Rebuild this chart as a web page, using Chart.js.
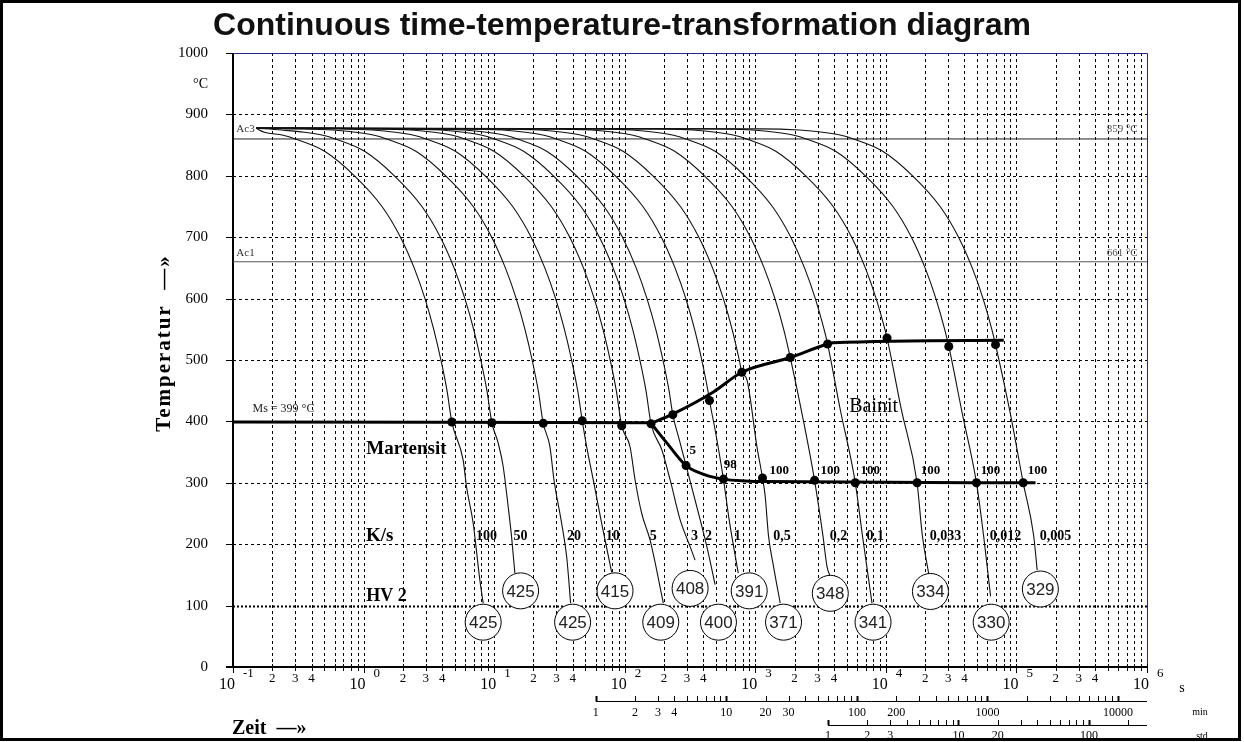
<!DOCTYPE html>
<html>
<head>
<meta charset="utf-8">
<script src="https://cdn.jsdelivr.net/npm/chart.js@4.4.1/dist/chart.umd.min.js"></script>
<style>
  html, body { margin: 0; padding: 0; background: #fff; }
  #wrap { width: 1244px; height: 742px; }
</style>
</head>
<body>
<div id="wrap"><canvas id="cct" width="1244" height="742"></canvas></div>
<script>
// cooling curves, [time in s, temperature in °C]
const c100   = [[0.15,877.5],[0.174,871],[0.242,866],[0.30,860],[0.503,840],[0.852,800],[1.384,750],[1.917,700],[2.44,650],[2.953,600],[3.446,550],[3.911,500],[4.356,450],[4.74,399],[5.79,337],[6.14,294],[6.9,235],[7.77,142],[8.24,104]];
const c50    = [[0.15,877.5],[0.235,874.5],[0.352,871],[0.489,866],[0.607,860],[1.018,840],[1.722,800],[2.798,750],[3.875,700],[4.932,650],[5.969,600],[6.967,550],[7.906,500],[8.806,450],[9.6,398],[10.73,365],[11.72,327],[12.81,261],[13.6,212],[14.41,153]];
const c20    = [[0.15,877.5],[0.29,876.5],[0.58,874.5],[0.871,871],[1.209,866],[1.5,860],[2.516,840],[4.257,800],[6.918,750],[9.579,700],[12.19,650],[14.76,600],[17.22,550],[19.55,500],[21.77,450],[23.76,397],[26.74,359],[28.71,305],[32.88,234],[35.92,180],[38.54,104]];
const c10    = [[0.15,877.5],[0.582,876.5],[1.164,874.5],[1.746,871],[2.425,866],[3.007,860],[5.044,840],[8.535,800],[13.87,750],[19.2,700],[24.44,650],[29.58,600],[34.53,550],[39.19,500],[43.65,450],[47.3,401],[51.1,359],[57.4,305],[66.6,234],[79.5,154]];
const c5     = [[0.15,877.5],[1.149,876.5],[2.299,874.5],[3.448,871],[4.789,866],[5.939,860],[9.962,840],[16.86,800],[27.39,750],[37.93,700],[48.28,650],[58.43,600],[68.2,550],[77.39,500],[86.21,450],[94.8,393],[109.8,359],[120,305],[135,250],[156.3,207],[197.7,104]];
const c3     = [[0.15,877.5],[1.94,876.5],[3.88,874.5],[5.82,871],[8.083,866],[10.02,860],[16.81,840],[28.45,800],[46.23,750],[64.02,700],[81.47,650],[98.61,600],[115.1,550],[130.6,500],[145.5,450],[159.1,396],[192.2,354],[222.6,305],[265.5,240],[316.8,196],[346,174]];
const c2     = [[0.15,877.5],[2.914,876.5],[5.828,874.5],[8.742,871],[12.14,866],[15.06,860],[25.25,840],[42.74,800],[69.45,750],[96.16,700],[122.4,650],[148.1,600],[172.9,550],[196.2,500],[218.6,450],[233.4,411],[262,370],[295,328],[356.6,261],[425.6,196],[492.6,134]];
const c1     = [[0.15,877.5],[5.78,876.5],[11.56,874.5],[17.34,871],[24.08,866],[29.87,860],[50.1,840],[84.78,800],[137.8,750],[190.8,700],[242.8,650],[293.8,600],[343,550],[389.2,500],[433.5,450],[445.7,434],[492.6,386],[570.3,306],[630.5,240],[740,153]];
const c05    = [[0.15,877.5],[11.2,876.5],[22.4,874.5],[33.6,871],[46.67,866],[57.87,860],[97.07,840],[164.3,800],[266.9,750],[369.6,700],[470.4,650],[569.3,600],[664.6,550],[754.2,500],[789,480],[862,468],[1029,359],[1136,308],[1191,278],[1262,214],[1379,164],[1552,104]];
const c02    = [[0.15,877.5],[27.82,876.5],[55.63,874.5],[83.45,871],[115.9,866],[143.7,860],[241.1,840],[408,800],[663,750],[918,700],[1168,650],[1414,600],[1650,550],[1854,504],[2328,403],[2844,304],[3296,214],[3540,164],[3750,147]];
const c01    = [[0.15,877.5],[56.71,876.5],[113.4,874.5],[170.1,871],[236.3,866],[293,860],[491.5,840],[831.8,800],[1352,750],[1871,700],[2382,650],[2883,600],[3365,550],[3581,526],[4478,419],[5834,300],[6607,215],[7834,104]];
const c0033  = [[0.15,877.5],[165.7,876.5],[331.5,874.5],[497.2,871],[690.6,866],[856.4,860],[1436,840],[2431,800],[3950,750],[5470,700],[6961,650],[8425,600],[9834,550],[10210,536],[13150,419],[17340,300],[19010,215],[21280,152]];
const c0012  = [[0.15,877.5],[475.4,876.5],[950.9,874.5],[1426,871],[1981,866],[2456,860],[4120,840],[6973,800],[11330,750],[15690,700],[19970,650],[24170,600],[28210,550],[30340,522],[38650,411],[49430,300],[55970,215],[63390,115]];
const c0005  = [[0.15,877.5],[1092,876.5],[2184,874.5],[3276,871],[4550,866],[5643,860],[9465,840],[16020,800],[26030,750],[36040,700],[45870,650],[55510,600],[64800,550],[69180,525],[90130,411],[112700,300],[135300,215],[144200,158]];
const curves = [c100, c50, c20, c10, c5, c3, c2, c1, c05, c02, c01, c0033, c0012, c0005];

// transformation lines
const msLine    = [[0.1,399],[159.1,398]];
const bainStart = [[159.1,397],[233,412],[478,448],[789,480],[1854,504],[3581,526],[3955,528],[80000,532]];
const bainEnd   = [[159.1,397],[210,365],[295,328],[413,313],[570,306],[836,303],[1136,302],[140000,300]];
const ac3Temp = 860;
const ac1Temp = 660;

// measured points on the lines
const dotTime = [4.74,9.6,23.76,47.3,94.8,159.1,233.4,445.7,789,1854,3581,10210,30340,69180,295,570,1136,2844,5834,17340,49430,112700];
const dotTemp = [399,398,397,401,393,396,411,434,480,504,526,536,522,525,328,306,308,304,300,300,300,300];

// percentage labels next to the lower dots
const pctText = ['5','98','100','100','100','100','100','100'];
const pctTime = [332,642,1525,3753,7603,21950,63240,145200];
const pctTemp = [353,329,320,320,320,320,320,320];

// cooling rates in K/s
const rateText = ['100','50','20','10','5','3','2','1','0,5','0,2','0,1','0,033','0,012','0,005'];
const rateTime = [8.74,15.94,40.85,80.9,165.7,341.8,437.7,730.3,1600,4345,8310,28600,82500,199400];
const rateTemp = 213;

// hardness HV 2
const hvValue = [425,425,425,415,409,408,400,391,371,348,341,334,330,329];
const hvTime  = [8.24,15.94,39.9,84.3,188.8,316.8,522.2,898.3,1646,3753,7977,21950,64070,152500];
const hvTemp  = [73,124,73,124,73,128,73,124,73,120,73,123,73,127];

// axis ticks
const yTicks = [0,100,200,300,400,500,600,700,800,900,1000];
const xDecades = [-1,0,1,2,3,4,5,6];
const minLabels = [1,2,3,4,10,20,30,100,200,1000,10000];
const stdLabels = [1,2,3,10,20,100];

const serif = '"Liberation Serif", "DejaVu Serif", serif';
const sans = '"Liberation Sans", Arial, sans-serif';

function pts(arr) { return arr.map(p => ({ x: p[0], y: p[1] })); }

const datasets = [];
datasets.push({
  data: hvTime.map((t, i) => ({ x: t, y: hvTemp[i] })),
  pointRadius: 18, pointBackgroundColor: '#fff', pointBorderColor: '#000', pointBorderWidth: 1,
  showLine: false, order: -2
});
datasets.push({
  data: dotTime.map((t, i) => ({ x: t, y: dotTemp[i] })),
  pointRadius: 4.5, pointBackgroundColor: '#000', pointBorderWidth: 0,
  showLine: false, order: -1
});
[msLine, bainStart, bainEnd].forEach(l => datasets.push({
  data: pts(l), showLine: true, borderColor: '#000', borderWidth: 3,
  pointRadius: 0, cubicInterpolationMode: 'monotone', order: 0
}));
curves.forEach(c => datasets.push({
  data: pts(c), showLine: true, borderColor: '#111', borderWidth: 1.1,
  pointRadius: 0, cubicInterpolationMode: 'monotone', order: 1
}));
datasets.push({ data: pts([[0.1,ac3Temp],[1e6,ac3Temp]]), showLine: true, borderColor: '#222', borderWidth: 1, pointRadius: 0, order: 2 });
datasets.push({ data: pts([[0.1,ac1Temp],[1e6,ac1Temp]]), showLine: true, borderColor: '#555', borderWidth: 1.2, pointRadius: 0, order: 2 });

function txt(ctx, s, x, y, font, align, color) {
  ctx.font = font;
  ctx.textAlign = align || 'center';
  ctx.textBaseline = 'middle';
  ctx.fillStyle = color || '#000';
  ctx.fillText(s, x, y);
}

const decor = {
  id: 'decor',
  beforeDraw(chart) {
    const ctx = chart.ctx;
    ctx.save();
    ctx.fillStyle = '#fff';
    ctx.fillRect(0, 0, chart.width, chart.height);
    ctx.strokeStyle = '#000';
    ctx.lineWidth = 3;
    ctx.strokeRect(1.5, 1.5, 1238, 738);
    txt(ctx, 'Continuous time-temperature-transformation diagram', 622, 26, 'bold 32px ' + sans, 'center', '#111');
    ctx.restore();
  },
  beforeDatasetsDraw(chart) {
    const ctx = chart.ctx, xs = chart.scales.x, ys = chart.scales.y, a = chart.chartArea;
    ctx.save();
    ctx.strokeStyle = '#000';
    ctx.lineWidth = 1;
    ctx.setLineDash([3, 3]);
    xDecades.slice(0, -1).forEach(e => {
      for (let m = 1; m <= 9; m++) {
        if (e === -1 && m === 1) continue;
        const px = Math.round(xs.getPixelForValue(m * Math.pow(10, e))) + 0.5;
        ctx.beginPath(); ctx.moveTo(px, a.top); ctx.lineTo(px, a.bottom); ctx.stroke();
      }
    });
    yTicks.forEach(v => {
      if (v === 0 || v === 1000) return;
      const py = Math.round(ys.getPixelForValue(v)) + 0.5;
      ctx.lineWidth = v === 100 ? 2 : 1;
      ctx.setLineDash(v === 100 ? [2, 2] : [3, 3]);
      ctx.beginPath(); ctx.moveTo(a.left, py); ctx.lineTo(a.right, py); ctx.stroke();
    });
    ctx.setLineDash([]);
    // frame of the plot
    ctx.strokeStyle = '#23238c';
    ctx.lineWidth = 1;
    ctx.beginPath();
    ctx.moveTo(a.left, a.top + 0.5); ctx.lineTo(a.right + 0.5, a.top + 0.5); ctx.lineTo(a.right + 0.5, a.bottom);
    ctx.stroke();
    ctx.strokeStyle = '#000';
    ctx.lineWidth = 2;
    ctx.beginPath();
    ctx.moveTo(a.left, a.top); ctx.lineTo(a.left, a.bottom);
    ctx.moveTo(a.left - 7, a.bottom); ctx.lineTo(a.right, a.bottom);
    ctx.stroke();
    ctx.lineWidth = 1;
    yTicks.forEach(v => {
      const py = Math.round(ys.getPixelForValue(v)) + 0.5;
      ctx.beginPath(); ctx.moveTo(a.left - 7, py); ctx.lineTo(a.left, py); ctx.stroke();
    });
    xDecades.forEach(e => {
      for (let m = 1; m <= 9; m++) {
        if (e === 6 && m > 1) break;
        const px = Math.round(xs.getPixelForValue(m * Math.pow(10, e))) + 0.5;
        ctx.beginPath(); ctx.moveTo(px, a.bottom - 3); ctx.lineTo(px, a.bottom + (m === 1 ? 6 : 4)); ctx.stroke();
      }
    });
    // minute and hour scales
    const minY = 701, stdY = 725;
    ctx.beginPath();
    ctx.moveTo(xs.getPixelForValue(60), minY + 0.5); ctx.lineTo(a.right, minY + 0.5);
    ctx.moveTo(xs.getPixelForValue(3600), stdY + 0.5); ctx.lineTo(a.right, stdY + 0.5);
    ctx.stroke();
    [1, 10, 100, 1000, 10000].forEach(d => {
      for (let m = 1; m <= 9; m++) {
        const s = m * d * 60;
        if (s > 1e6) break;
        const px = Math.round(xs.getPixelForValue(s)) + 0.5;
        ctx.lineWidth = m === 1 ? 2 : 1;
        ctx.beginPath(); ctx.moveTo(px, minY - 5); ctx.lineTo(px, minY); ctx.stroke();
      }
    });
    [1, 10, 100].forEach(d => {
      for (let m = 1; m <= 9; m++) {
        const s = m * d * 3600;
        if (s > 1e6) break;
        const px = Math.round(xs.getPixelForValue(s)) + 0.5;
        ctx.lineWidth = m === 1 ? 2 : 1;
        ctx.beginPath(); ctx.moveTo(px, stdY - 5); ctx.lineTo(px, stdY); ctx.stroke();
      }
    });
    ctx.restore();
  },
  afterDatasetsDraw(chart) {
    const ctx = chart.ctx, xs = chart.scales.x, ys = chart.scales.y;
    const X = t => xs.getPixelForValue(t), Y = v => ys.getPixelForValue(v);
    ctx.save();
    // y tick labels
    yTicks.forEach(v => txt(ctx, String(v), 208, Y(v), '15px ' + serif, 'right'));
    txt(ctx, '°C', 208, 84, '14px ' + serif, 'right');
    // x tick labels
    xDecades.forEach(e => {
      const px = X(Math.pow(10, e));
      txt(ctx, '10', px + 2, 685, '16px ' + serif, 'right');
      txt(ctx, String(e), px + 10, 674, '13px ' + serif, 'left');
      if (e < 6) [2, 3, 4].forEach(m => txt(ctx, String(m), X(m * Math.pow(10, e)), 679, '13px ' + serif));
    });
    txt(ctx, 's', 1182, 688, '14px ' + serif);
    minLabels.forEach(m => txt(ctx, String(m), X(m * 60), 713, '12px ' + serif));
    txt(ctx, 'min', 1200, 712, '10px ' + serif);
    stdLabels.forEach(h => txt(ctx, String(h), X(h * 3600), 736, '12px ' + serif));
    txt(ctx, 'std', 1202, 736, '10px ' + serif);
    // axis titles
    txt(ctx, 'Zeit  \u2014\u00bb', 232, 729, 'bold 20px ' + serif, 'left');
    ctx.save();
    ctx.translate(165, 343);
    ctx.rotate(-Math.PI / 2);
    ctx.letterSpacing = '2px';
    txt(ctx, 'Temperatur  \u2014\u00bb', 0, 0, 'bold 21px ' + serif);
    ctx.restore();
    // Ac lines
    txt(ctx, 'Ac3', X(0.106), Y(ac3Temp + 16), '11px ' + serif, 'left', '#333');
    txt(ctx, 'Ac1', X(0.106), Y(ac1Temp + 14), '11px ' + serif, 'left', '#333');
    txt(ctx, '859 °C', X(848600), Y(ac3Temp + 16), '11px ' + serif, 'right', '#555');
    txt(ctx, '661 °C', X(848600), Y(ac1Temp + 14), '11px ' + serif, 'right', '#555');
    // region names
    txt(ctx, 'Ms = 399 °C', X(0.141), Y(420), '12px ' + serif, 'left', '#222');
    txt(ctx, 'Martensit', X(2.128), Y(355), 'bold 19px ' + serif);
    txt(ctx, 'K/s', X(1.329), Y(214), 'bold 19px ' + serif);
    txt(ctx, 'HV 2', X(1.496), Y(115), 'bold 18px ' + serif);
    txt(ctx, 'Bainit', X(8062), Y(424), '20px ' + serif);
    // rates, percentages, hardness
    rateText.forEach((s, i) => txt(ctx, s, X(rateTime[i]), Y(rateTemp), 'bold 14px ' + serif));
    pctText.forEach((s, i) => txt(ctx, s, X(pctTime[i]), Y(pctTemp[i]), 'bold 13px ' + serif));
    hvValue.forEach((v, i) => txt(ctx, String(v), X(hvTime[i]), Y(hvTemp[i]) + 1, '17px ' + sans, 'center', '#222'));
    ctx.restore();
  }
};

new Chart(document.getElementById('cct'), {
  type: 'scatter',
  data: { datasets: datasets },
  options: {
    responsive: false,
    devicePixelRatio: 1,
    animation: false,
    layout: { padding: { left: 233, right: 97, top: 53, bottom: 75 } },
    scales: {
      x: { type: 'logarithmic', min: 0.1, max: 1e6, display: false },
      y: { type: 'linear', min: 0, max: 1000, display: false }
    },
    plugins: { legend: { display: false }, tooltip: { enabled: false } }
  },
  plugins: [decor]
});
</script>
</body>
</html>
